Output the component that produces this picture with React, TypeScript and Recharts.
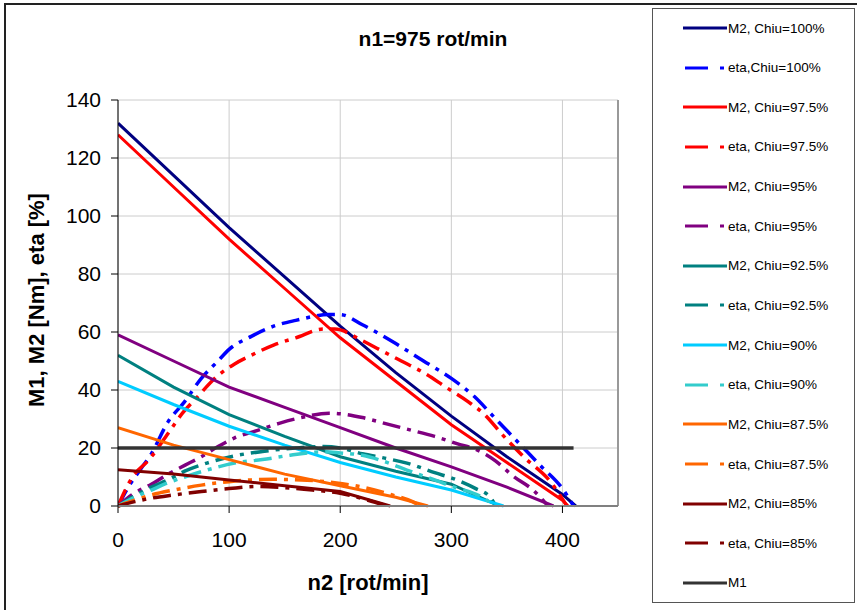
import React from "react";
import { CartesianGrid, Line, LineChart, ReferenceLine, XAxis, YAxis } from "recharts";

// [n2, value] pairs
const m2Chiu100 = [[0, 132], [50, 114], [100, 96], [150, 79], [200, 62], [250, 46], [300, 31], [350, 17], [400, 4], [412, 0]];
const etaChiu100 = [[0, 0], [10, 7], [20, 12.5], [30, 18], [45, 29], [60, 36], [75, 44], [90, 50], [100, 54], [120, 58.5], [140, 62], [160, 64], [190, 66], [200, 66], [220, 62.5], [250, 56], [275, 50], [300, 44], [320, 38], [340, 30], [360, 22], [380, 14], [400, 6], [410, 0]];
const m2Chiu975 = [[0, 128], [50, 110], [100, 92], [150, 75], [200, 58], [250, 43], [300, 28], [350, 15], [400, 2], [405, 0]];
const etaChiu975 = [[0, 0], [13, 10], [28, 16], [45, 25], [58, 32], [70, 37], [90, 45], [105, 49], [120, 52], [140, 55.5], [160, 58], [185, 61], [195, 61], [220, 57], [235, 54], [255, 50], [275, 46], [295, 41], [315, 36], [330, 31.5], [345, 25], [365, 17], [390, 8], [404, 0]];
const m2Chiu95 = [[0, 59], [50, 50], [100, 41], [150, 34], [200, 27], [250, 20], [300, 13.5], [350, 6.5], [392, 0]];
const etaChiu95 = [[0, 0], [15, 4.5], [30, 7.5], [45, 11], [60, 14], [75, 17], [90, 20.5], [105, 23.5], [125, 26], [145, 28.5], [165, 30.5], [190, 32], [200, 31.8], [220, 30.5], [240, 28.5], [260, 26.5], [285, 24], [305, 21.5], [325, 19], [340, 15.5], [355, 10.5], [375, 5], [387, 0]];
const m2Chiu925 = [[0, 52], [50, 41], [100, 31.5], [150, 24], [200, 17], [250, 12], [300, 7.5], [343, 0]];
const etaChiu925 = [[0, 0], [15, 3.5], [30, 6.5], [45, 9], [60, 12], [80, 14.8], [105, 17.3], [130, 18.8], [160, 20], [185, 20.5], [200, 20], [220, 18], [240, 16.5], [260, 14.8], [285, 11.5], [305, 9], [322, 6], [335, 3], [340, 0]];
const m2Chiu90 = [[0, 43], [50, 35], [100, 27.5], [150, 21], [200, 15], [250, 10], [300, 5.5], [347, 0]];
const etaChiu90 = [[0, 0], [15, 3], [30, 5.5], [45, 8], [60, 10], [80, 12.4], [105, 14.8], [130, 16], [155, 17.5], [185, 18.7], [200, 18.3], [220, 17.5], [240, 15.3], [260, 12.4], [285, 9], [305, 6.2], [320, 4.4], [332, 2], [338, 0]];
const m2Chiu875 = [[0, 27], [50, 21], [100, 16], [150, 11], [200, 7], [250, 3], [279, 0]];
const etaChiu875 = [[0, 0], [15, 2], [30, 3.8], [50, 5.5], [75, 7.2], [100, 8.4], [120, 9], [140, 9.2], [165, 9], [195, 8], [220, 6.5], [245, 4], [265, 1.5], [272, 0]];
const m2Chiu85 = [[0, 12.5], [50, 11], [100, 9], [150, 7], [200, 5], [245, 0]];
const etaChiu85 = [[0, 0], [15, 1.5], [30, 2.7], [50, 3.8], [75, 5], [100, 6], [125, 6.7], [150, 6.3], [175, 5.5], [200, 4.4], [225, 2], [242, 0]];
const m1 = [[0, 20], [410, 20]];

const xTicks = [0, 100, 200, 300, 400];
const yTicks = [0, 20, 40, 60, 80, 100, 120, 140];

const series = [
  { name: "M2, Chiu=100%", color: "#000080", dashed: false, points: m2Chiu100 },
  { name: "eta,Chiu=100%", color: "#0000FF", dashed: true, points: etaChiu100 },
  { name: "M2, Chiu=97.5%", color: "#FF0000", dashed: false, points: m2Chiu975 },
  { name: "eta, Chiu=97.5%", color: "#FF0000", dashed: true, points: etaChiu975 },
  { name: "M2, Chiu=95%", color: "#800080", dashed: false, points: m2Chiu95 },
  { name: "eta, Chiu=95%", color: "#800080", dashed: true, points: etaChiu95 },
  { name: "M2, Chiu=92.5%", color: "#008080", dashed: false, points: m2Chiu925 },
  { name: "eta, Chiu=92.5%", color: "#008080", dashed: true, points: etaChiu925 },
  { name: "M2, Chiu=90%", color: "#00CCFF", dashed: false, points: m2Chiu90 },
  { name: "eta, Chiu=90%", color: "#33CCCC", dashed: true, points: etaChiu90 },
  { name: "M2, Chiu=87.5%", color: "#FF6600", dashed: false, points: m2Chiu875 },
  { name: "eta, Chiu=87.5%", color: "#FF6600", dashed: true, points: etaChiu875 },
  { name: "M2, Chiu=85%", color: "#800000", dashed: false, points: m2Chiu85 },
  { name: "eta, Chiu=85%", color: "#800000", dashed: true, points: etaChiu85 },
  { name: "M1", color: "#333333", dashed: false, points: m1 },
];

const font = '"Liberation Sans", Arial, sans-serif';

function toRows(points: number[][]) {
  return points.map(([n, v]) => ({ n, v }));
}

function ChartLegend() {
  return (
    <div
      style={{
        position: "absolute",
        left: 652,
        top: 8,
        width: 203,
        height: 595,
        border: "1px solid #555",
        boxSizing: "border-box",
        fontFamily: font,
        fontSize: 13.5,
      }}
    >
      {series.map((s, i) => (
        <div
          key={s.name}
          style={{ position: "absolute", left: 30, top: 19 + i * 39.64 - 8, height: 16, display: "flex", alignItems: "center" }}
        >
          <svg width={44} height={8}>
            {s.dashed ? (
              <line x1={2} y1={4} x2={42} y2={4} stroke={s.color} strokeWidth={3} strokeDasharray="23 12 4 10" />
            ) : (
              <line x1={0} y1={4} x2={44} y2={4} stroke={s.color} strokeWidth={3} />
            )}
          </svg>
          <span style={{ marginLeft: 1, whiteSpace: "pre" }}>{s.name}</span>
        </div>
      ))}
    </div>
  );
}

export default function App() {
  return (
    <div style={{ position: "absolute", left: 0, top: 0, width: 857, height: 610, overflow: "hidden", background: "#fff" }}>
      <div style={{ position: "absolute", left: 4, top: 3, width: 1000, height: 800, border: "2px solid #222" }} />
      <LineChart width={857} height={610} margin={{ top: 100, right: 239, bottom: 64, left: 48 }}>
        <CartesianGrid
          horizontal={{ stroke: "#808080", strokeWidth: 2 }}
          vertical={{ stroke: "#000", strokeWidth: 1 }}
        />
        <XAxis
          dataKey="n"
          type="number"
          domain={[0, 450]}
          ticks={xTicks}
          height={40}
          tickSize={7}
          tickMargin={19}
          axisLine={{ stroke: "#808080", strokeWidth: 2 }}
          tickLine={{ stroke: "#000" }}
          tick={{ fill: "#000", fontSize: 21, fontFamily: font }}
          allowDataOverflow
        />
        <YAxis
          type="number"
          domain={[0, 140]}
          ticks={yTicks}
          width={70}
          tickSize={7}
          tickMargin={10}
          axisLine={{ stroke: "#000" }}
          tickLine={{ stroke: "#000" }}
          tick={{ fill: "#000", fontSize: 21, fontFamily: font }}
        />
        <ReferenceLine x={450} stroke="#999" strokeWidth={2} />
        {series.map((s) => (
          <Line
            key={s.name}
            data={toRows(s.points)}
            dataKey="v"
            name={s.name}
            type={s.dashed ? "monotone" : "linear"}
            stroke={s.color}
            strokeWidth={s.dashed || s.name === "M1" ? 3.5 : 3}
            strokeDasharray={s.dashed ? "18 7 4 7" : undefined}
            dot={false}
            activeDot={false}
            isAnimationActive={false}
          />
        ))}
      </LineChart>
      <div style={{ position: "absolute", left: 283, top: 28, width: 300, textAlign: "center", fontFamily: font, fontWeight: "bold", fontSize: 21, lineHeight: "22px" }}>
        n1=975 rot/min
      </div>
      <div style={{ position: "absolute", left: 218, top: 571, width: 300, textAlign: "center", fontFamily: font, fontWeight: "bold", fontSize: 22, lineHeight: "24px" }}>
        n2 [rot/min]
      </div>
      <div
        style={{
          position: "absolute",
          left: 37 - 150,
          top: 300 - 12,
          width: 300,
          textAlign: "center",
          fontFamily: font,
          fontWeight: "bold",
          fontSize: 22,
          lineHeight: "24px",
          transform: "rotate(-90deg)",
        }}
      >
        M1, M2 [Nm], eta [%]
      </div>
      <ChartLegend />
    </div>
  );
}
